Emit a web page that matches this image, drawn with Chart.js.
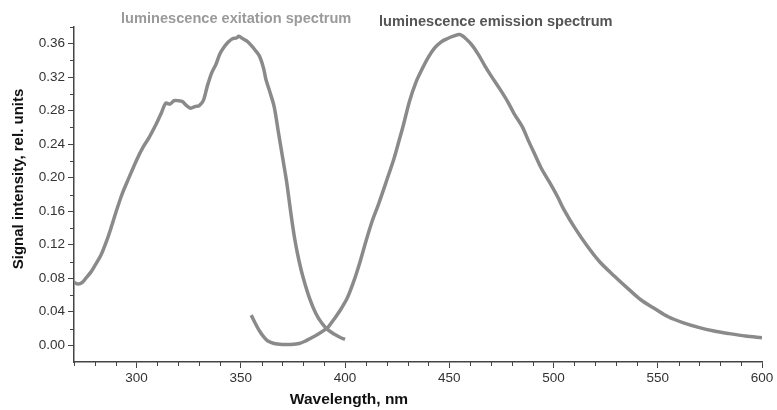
<!DOCTYPE html>
<html>
<head>
<meta charset="utf-8">
<script src="https://cdn.jsdelivr.net/npm/chart.js@4.4.1/dist/chart.umd.min.js"></script>
<style>
  html, body { margin: 0; padding: 0; background: #fff; }
  #wrap { width: 777px; height: 410px; }
</style>
</head>
<body>
<div id="wrap"><canvas id="c" width="777" height="410"></canvas></div>
<script>
// ── DATA ──────────────────────────────────────────────
const excWave = [270, 272, 274, 276, 278, 280, 283, 286, 288, 290, 293, 296, 300, 303, 306, 309, 312, 314, 316, 318,
  320, 322, 324, 326, 328, 330, 332, 334, 336, 338, 340, 342, 344, 346, 348, 349, 351, 353, 355, 357,
  359, 361, 362, 364, 366, 368, 370, 372, 374, 376, 378, 380, 383, 386, 389, 392, 395, 398, 400];
const excVals = [0.075, 0.073, 0.075, 0.081, 0.087, 0.095, 0.108, 0.127, 0.142, 0.158, 0.180, 0.198, 0.221, 0.236, 0.248, 0.262, 0.278, 0.289, 0.288, 0.292,
  0.292, 0.291, 0.286, 0.283, 0.285, 0.286, 0.292, 0.310, 0.325, 0.335, 0.348, 0.356, 0.362, 0.366, 0.367, 0.369, 0.366, 0.363, 0.358, 0.352,
  0.345, 0.330, 0.318, 0.302, 0.285, 0.255, 0.225, 0.195, 0.158, 0.125, 0.100, 0.080, 0.056, 0.038, 0.026, 0.018, 0.013, 0.009, 0.007];

const emiWave = [355, 357, 359, 361, 363, 366, 370, 374, 378, 381, 384, 387, 390, 392, 395, 398, 401, 404, 407, 410,
  413, 416, 420, 423.5, 426, 428, 431, 434, 437, 440, 443, 446, 449, 452, 455, 458, 461, 464, 467, 470,
  474, 478, 481, 485, 488, 491, 494, 498, 502, 505, 510, 516, 522, 529, 536, 542, 549, 555, 562, 570,
  577, 584, 592, 600];
const emiVals = [0.036, 0.026, 0.017, 0.010, 0.005, 0.002, 0.001, 0.001, 0.002, 0.005, 0.009, 0.013, 0.018, 0.022, 0.032, 0.043, 0.056, 0.075, 0.098, 0.124,
  0.148, 0.168, 0.197, 0.223, 0.245, 0.263, 0.292, 0.314, 0.330, 0.344, 0.355, 0.362, 0.366, 0.369, 0.371, 0.366, 0.358, 0.347, 0.334, 0.322,
  0.307, 0.291, 0.277, 0.261, 0.244, 0.228, 0.212, 0.195, 0.177, 0.162, 0.141, 0.119, 0.100, 0.083, 0.067, 0.054, 0.043, 0.034, 0.027, 0.021,
  0.017, 0.014, 0.011, 0.009];

const xMajor = [300, 350, 400, 450, 500, 550, 600];
const yMajor = [0, 0.04, 0.08, 0.12, 0.16, 0.20, 0.24, 0.28, 0.32, 0.36];

const excLabel = 'luminescence exitation spectrum';
const emiLabel = 'luminescence emission spectrum';
const xTitle = 'Wavelength, nm';
const yTitle = 'Signal intensity, rel. units';

// ── STYLE ─────────────────────────────────────────────
const FONT = '"Liberation Sans", Arial, sans-serif';
const LINE = '#8a8a8a';
const AXIS = '#444';

const pts = (xs, ys) => xs.map((x, i) => ({ x, y: ys[i] }));

// minor ticks + texts
const extras = {
  id: 'extras',
  afterDraw(chart) {
    const { ctx, chartArea: a, scales: { x, y } } = chart;
    ctx.save();
    ctx.strokeStyle = AXIS;
    ctx.lineWidth = 1;
    ctx.beginPath();
    for (let v = 270; v <= 600; v += 10) {
      if (v % 50 === 0) continue;
      const px = Math.round(x.getPixelForValue(v)) + 0.5;
      ctx.moveTo(px, a.bottom); ctx.lineTo(px, a.bottom + 4);
    }
    for (let k = 0; k <= 9; k++) {
      const v = 0.02 + k * 0.04;
      const py = Math.round(y.getPixelForValue(v)) + 0.5;
      ctx.moveTo(a.left, py); ctx.lineTo(a.left - 4, py);
    }
    ctx.stroke();

    ctx.textBaseline = 'middle';
    ctx.font = `bold 14.6px ${FONT}`;
    ctx.textAlign = 'left';
    ctx.fillStyle = '#9a9a9a';
    ctx.fillText(excLabel, 121, 19);
    ctx.fillStyle = '#555';
    ctx.fillText(emiLabel, 379, 22);

    ctx.fillStyle = '#111';
    ctx.font = `bold 15.5px ${FONT}`;
    ctx.textAlign = 'center';
    ctx.fillText(xTitle, 349, 400);
    ctx.font = `bold 15px ${FONT}`;
    ctx.translate(19, 179);
    ctx.rotate(-Math.PI / 2);
    ctx.fillText(yTitle, 0, 0);
    ctx.restore();
  }
};

new Chart(document.getElementById('c').getContext('2d'), {
  type: 'line',
  data: {
    datasets: [
      { label: excLabel, data: pts(excWave, excVals), borderColor: LINE, borderWidth: 3.5,
        pointRadius: 0, tension: 0.3, fill: false },
      { label: emiLabel, data: pts(emiWave, emiVals), borderColor: LINE, borderWidth: 3.5,
        pointRadius: 0, tension: 0.3, fill: false },
    ],
  },
  options: {
    responsive: false, animation: false,
    layout: { padding: { top: 27, right: 15, left: 0, bottom: 0 } },
    plugins: { legend: { display: false }, tooltip: { enabled: false } },
    scales: {
      x: {
        type: 'linear', min: 270, max: 600,
        afterBuildTicks: s => { s.ticks = xMajor.map(v => ({ value: v })); },
        afterFit: s => { s.height = 48; },
        grid: { display: true, drawOnChartArea: false, drawTicks: true, tickLength: 6, color: AXIS },
        border: { display: true, color: AXIS, width: 1.5 },
        ticks: { color: '#333', font: { family: FONT, size: 13.5 }, padding: 2, maxRotation: 0, autoSkip: false },
      },
      y: {
        type: 'linear', min: -0.02, max: 0.38,
        afterBuildTicks: s => { s.ticks = yMajor.map(v => ({ value: v })); },
        afterFit: s => { s.width = 74; },
        grid: { display: true, drawOnChartArea: false, drawTicks: true, tickLength: 6, color: AXIS },
        border: { display: true, color: AXIS, width: 1.5 },
        ticks: { color: '#333', font: { family: FONT, size: 13.5 }, padding: 3, autoSkip: false,
          callback: v => v.toFixed(2) },
      },
    },
  },
  plugins: [extras],
});
</script>
</body>
</html>
